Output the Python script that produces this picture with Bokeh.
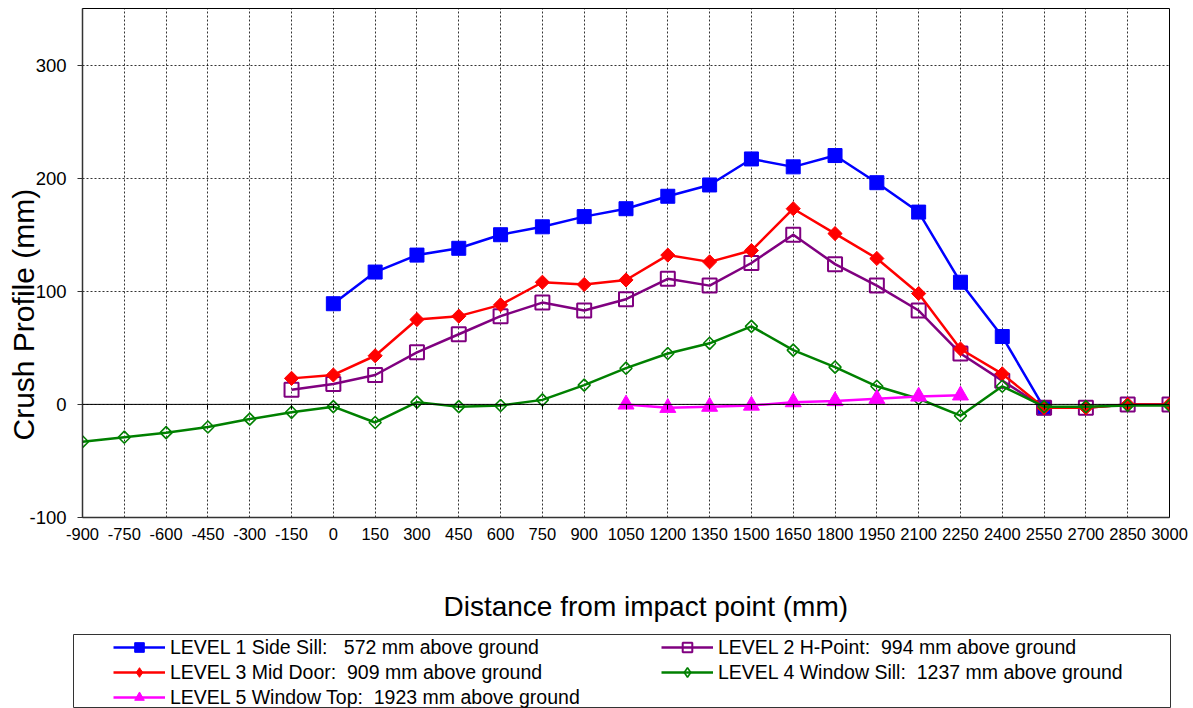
import math
from bokeh.plotting import figure
from bokeh.layouts import column
from bokeh.models import (FixedTicker, Legend, LegendItem, Span, Title, LinearAxis,
                          ColumnDataSource, Range1d)
from bokeh.embed import file_html
from bokeh.resources import INLINE

# ---------------- data ----------------
x_ticks = list(range(-900, 3001, 150))
y_ticks = [-100, 0, 100, 200, 300]

lvl1_x = [0, 150, 300, 450, 600, 750, 900, 1050, 1200, 1350, 1500, 1650, 1800, 1950, 2100, 2250, 2400, 2550]
lvl1_y = [89, 117, 132, 138, 150, 157, 166, 173, 184, 194, 217, 210, 220, 196, 170, 108, 60, -3]

lvl2_x = [-150, 0, 150, 300, 450, 600, 750, 900, 1050, 1200, 1350, 1500, 1650, 1800, 1950, 2100, 2250, 2400, 2550, 2700, 2850, 3000]
lvl2_y = [13, 18, 26, 46, 62, 78, 90, 83, 93, 111, 105, 125, 150, 124, 105, 83, 45, 21, -3, -3, 0, 0]

lvl3_x = [-150, 0, 150, 300, 450, 600, 750, 900, 1050, 1200, 1350, 1500, 1650, 1800, 1950, 2100, 2250, 2400, 2550, 2700, 2850, 3000]
lvl3_y = [23, 26, 43, 75, 78, 88, 108, 106, 110, 132, 126, 136, 173, 151, 129, 98, 49, 27, -3, -3, 0, 0]

lvl4_x = [-900, -750, -600, -450, -300, -150, 0, 150, 300, 450, 600, 750, 900, 1050, 1200, 1350, 1500, 1650, 1800, 1950, 2100, 2250, 2400, 2550, 2700, 2850, 3000]
lvl4_y = [-33, -29, -25, -20, -13, -7, -2, -16, 2, -2, -1, 4, 17, 32, 45, 54, 69, 48, 33, 16, 5, -10, 16, -2, -2, -1, -1]

lvl5_x = [1050, 1200, 1350, 1500, 1650, 1800, 1950, 2100, 2250]
lvl5_y = [0, -3, -2, -1, 2, 3, 5, 7, 8]

labels = [
    "LEVEL 1 Side Sill:   572 mm above ground",
    "LEVEL 2 H-Point:  994 mm above ground",
    "LEVEL 3 Mid Door:  909 mm above ground",
    "LEVEL 4 Window Sill:  1237 mm above ground",
    "LEVEL 5 Window Top:  1923 mm above ground",
]
x_title = "Distance from impact point (mm)"
y_title = "Crush Profile (mm)"

FONT = "Liberation Sans"

# series styles: colour, marker, size, filled, marker line width, angle, legend marker
styles = [
    ("#0000FF", "square", 14, True, 1, 0.0, "square"),
    ("#800080", "square", 14, False, 2, 0.0, "square"),
    ("#FF0000", "square", 10, True, 1, math.pi / 4, "diamond"),
    ("#008000", "square", 8.5, False, 1.6, math.pi / 4, "diamond"),
    ("#FF00FF", "triangle", 16, True, 1, 0.0, "triangle"),
]
series_data = [(lvl1_x, lvl1_y), (lvl2_x, lvl2_y), (lvl3_x, lvl3_y), (lvl4_x, lvl4_y), (lvl5_x, lvl5_y)]

# ---------------- main figure ----------------
p = figure(width=1193, height=560, output_backend="svg", toolbar_location=None,
           x_range=Range1d(-900, 3000), y_range=Range1d(-100, 350),
           min_border_left=82, min_border_right=24, min_border_top=8, min_border_bottom=43)
p.frame_align = False
p.background_fill_color = "white"
p.border_fill_color = "white"
p.outline_line_color = "black"
p.outline_line_width = 1

p.xaxis.ticker = FixedTicker(ticks=x_ticks)
p.yaxis.ticker = FixedTicker(ticks=y_ticks)
p.xaxis.major_label_overrides = {t: str(t) for t in x_ticks}
p.yaxis.major_label_overrides = {t: str(t) for t in y_ticks}
p.xgrid.ticker = FixedTicker(ticks=x_ticks)
p.ygrid.ticker = FixedTicker(ticks=y_ticks)
for g in (p.xgrid, p.ygrid):
    g.grid_line_color = "black"
    g.grid_line_dash = "2 2"
    g.grid_line_width = 1
    g.grid_line_alpha = 0.8

for ax in (p.xaxis, p.yaxis):
    ax.major_label_text_font = FONT
    ax.major_label_text_color = "black"
    ax.axis_line_color = "#333333"
    ax.axis_line_width = 1.5
    ax.minor_tick_line_color = None
    ax.major_tick_in = 0

p.xaxis.major_label_text_font_size = "16.5px"
p.yaxis.major_label_text_font_size = "18.5px"
p.xaxis.major_tick_out = 0
p.xaxis.major_label_standoff = 10
p.yaxis.major_tick_out = 5
p.yaxis.major_tick_line_color = "#333333"
p.yaxis.major_label_standoff = 11

p.add_layout(Span(location=0, dimension="width", line_color="black", line_width=1))

# tick marks on the zero line (category axis crossing at 0)
zero_axis = LinearAxis(fixed_location=0, ticker=FixedTicker(ticks=x_ticks),
                       axis_line_color=None, major_tick_out=5, major_tick_in=0,
                       major_tick_line_color="black", minor_tick_line_color=None,
                       major_label_overrides={t: "" for t in x_ticks})
p.add_layout(zero_axis, "below")

for (xs, ys), (color, marker, size, fill, lwm, ang, _lm) in zip(series_data, styles):
    src = ColumnDataSource(dict(x=xs, y=ys))
    p.line("x", "y", source=src, line_color=color, line_width=2.5)
    p.scatter("x", "y", source=src, marker=marker, size=size, angle=ang,
              line_color=color, line_width=lwm,
              fill_color=color if fill else "white", fill_alpha=1.0 if fill else 0.0)

p.add_layout(Title(text=y_title, align="left", offset=77, standoff=-27,
                   text_font=FONT, text_font_size="30px", text_font_style="normal",
                   text_color="black"), "left")

# ---------------- legend box (second figure) ----------------
q = figure(width=1193, height=148, output_backend="svg", toolbar_location=None,
           x_range=Range1d(0, 1), y_range=Range1d(0, 1),
           x_axis_type=None, y_axis_type=None,
           min_border_left=73, min_border_right=23, min_border_top=74, min_border_bottom=0)
q.frame_align = False
q.grid.visible = False
q.outline_line_color = "#333333"
q.outline_line_width = 1
q.background_fill_color = "white"
q.border_fill_color = "white"

q.add_layout(Title(text=x_title, align="left", offset=370, standoff=25,
                   text_font=FONT, text_font_size="28px", text_font_style="normal",
                   text_color="black"), "above")

nan = float("nan")
legend_renderers = []
for color, marker, size, fill, lwm, ang, lmarker in styles:
    src = ColumnDataSource(dict(x=[nan], y=[nan]))
    ln = q.line("x", "y", source=src, line_color=color, line_width=2.5)
    sc = q.scatter("x", "y", source=src, marker=lmarker, size=size,
                   line_color=color, line_width=lwm,
                   fill_color=color if fill else "white", fill_alpha=1.0 if fill else 0.0)
    legend_renderers.append([ln, sc])

def make_legend(idx, loc):
    lg = Legend(items=[LegendItem(label=labels[i], renderers=legend_renderers[i]) for i in idx],
                location=loc, orientation="vertical",
                glyph_width=52, glyph_height=24, label_height=24, label_width=20,
                spacing=1, padding=0, margin=0, label_standoff=5,
                border_line_alpha=0, background_fill_alpha=0,
                label_text_font=FONT, label_text_font_size="19.5px",
                label_text_color="black")
    q.add_layout(lg)

make_legend([0, 2, 4], (40, -1))
make_legend([1, 3], (588, 24))

open("out.html", "w").write(file_html(column(p, q), INLINE))
